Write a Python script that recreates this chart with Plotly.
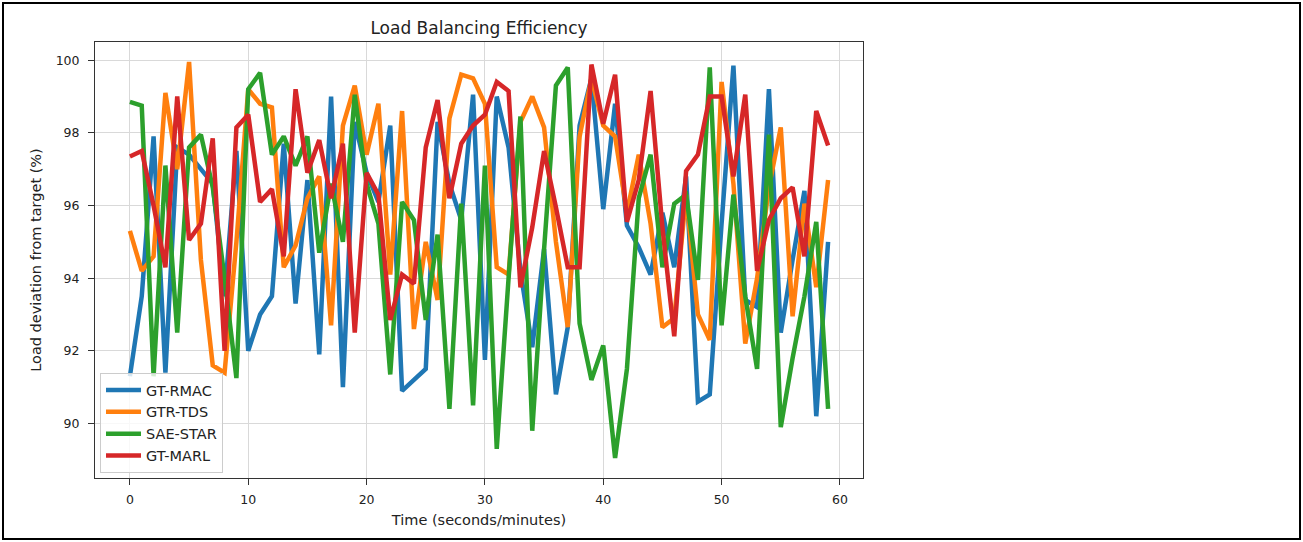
import plotly.graph_objects as go

time = list(range(60))
gt_rmac = [91.3, 93.5, 97.9, 91.4, 97.6, 97.4, 97.0, 96.6, 93.5, 97.5,
           92.0, 93.0, 93.5, 97.7, 93.3, 96.7, 91.9, 99.0, 91.0, 98.3,
           96.9, 96.1, 98.2, 90.9, 91.2, 91.5, 98.3, 96.6, 95.6, 99.05,
           91.75, 99.0, 97.6, 94.2, 92.1, 94.8, 90.8, 92.65, 98.2, 99.5,
           95.9, 98.8, 95.45, 94.85, 94.1, 95.8, 94.3, 96.8, 90.6, 90.8,
           95.5, 99.85, 93.4, 93.2, 99.2, 92.5, 94.5, 96.4, 90.2, 95.0]
gtr_tds = [95.3, 94.2, 94.6, 99.1, 97.0, 99.95, 94.5, 91.6, 91.4, 95.0,
           99.2, 98.8, 98.7, 94.3, 94.9, 96.2, 96.8, 92.7, 98.2, 99.3,
           97.4, 98.8, 94.1, 98.6, 92.6, 95.0, 93.4, 98.4, 99.6, 99.5,
           98.8, 94.3, 94.1, 98.3, 99.0, 98.15, 95.0, 92.65, 97.9, 99.5,
           98.2, 97.9, 95.8, 97.4, 95.5, 92.65, 92.9, 96.3, 93.0, 92.3,
           99.4, 96.6, 92.2, 94.0, 96.5, 98.15, 92.95, 96.05, 93.75, 96.7]
sae_star = [98.85, 98.75, 91.3, 97.1, 92.5, 97.6, 97.95, 96.5, 94.0, 91.25,
            99.2, 99.65, 97.4, 97.9, 97.1, 97.9, 94.7, 96.6, 95.0, 99.05,
            96.6, 95.5, 91.35, 96.1, 95.6, 92.85, 95.2, 90.4, 96.05, 90.5,
            97.1, 89.3, 94.0, 98.45, 89.8, 94.8, 99.3, 99.8, 92.75, 91.2,
            92.15, 89.05, 91.5, 96.2, 97.4, 94.3, 96.05, 96.3, 93.95, 99.8,
            92.7, 96.3, 93.5, 91.5, 97.95, 89.9, 91.8, 93.5, 95.55, 90.4]
gt_marl = [97.35, 97.5, 96.0, 94.3, 99.0, 95.05, 95.5, 97.85, 92.0, 98.15,
           98.5, 96.1, 96.45, 94.6, 99.2, 96.9, 97.8, 96.2, 97.7, 92.5,
           96.9, 96.3, 92.85, 94.1, 93.85, 97.6, 98.9, 96.2, 97.7, 98.2,
           98.5, 99.4, 99.15, 93.75, 95.4, 97.5, 95.95, 94.3, 94.3, 99.88,
           98.25, 99.6, 95.55, 96.7, 99.15, 95.4, 92.4, 96.95, 97.4, 99.0,
           99.0, 96.8, 99.05, 94.2, 95.6, 96.2, 96.5, 94.6, 98.6, 97.65]

series_names = ["GT-RMAC", "GTR-TDS", "SAE-STAR", "GT-MARL"]
series_values = [gt_rmac, gtr_tds, sae_star, gt_marl]
colors = ["#1f77b4", "#ff7f0e", "#2ca02c", "#d62728"]

x_ticks = [0, 10, 20, 30, 40, 50, 60]
y_ticks = [90, 92, 94, 96, 98, 100]

fig = go.Figure()
for name, vals, col in zip(series_names, series_values, colors):
    fig.add_trace(go.Scatter(x=time, y=vals, mode="lines", name=name,
                             line=dict(color=col, width=4.5)))

FONT = "DejaVu Sans"
L, R, T, B = 95, 440, 42, 64
W, H = 1303, 542
pw, ph = W - L - R, H - T - B

def px(xp):
    return (xp - L) / pw

def py(yp):
    return (H - B - yp) / ph

axis_common = dict(showline=True, linecolor="#333", linewidth=1, mirror=True,
                   ticks="outside", ticklen=6, tickcolor="#333",
                   showgrid=True, gridcolor="#d9d9d9", gridwidth=1,
                   zeroline=False, tickfont=dict(family=FONT, size=12.5, color="#222"))

fig.update_layout(
    width=W, height=H,
    margin=dict(l=L, r=R, t=T, b=B),
    paper_bgcolor="white", plot_bgcolor="white",
    font=dict(family=FONT, size=12, color="#222"),
    title=dict(text="Load Balancing Efficiency", x=px(479), xref="paper",
               xanchor="center", y=1 - 28 / H, yanchor="middle",
               font=dict(family=FONT, size=17, color="#222")),
    xaxis=dict(range=[-2.95, 61.95], tickvals=x_ticks, ticklabelstandoff=4,
               title=dict(text="Time (seconds/minutes)", standoff=8,
                          font=dict(family=FONT, size=14.5)),
               **axis_common),
    yaxis=dict(range=[88.5, 100.5], tickvals=y_ticks, ticklabelstandoff=6,
               title=dict(text="Load deviation from target (%)", standoff=10,
                          font=dict(family=FONT, size=14.5)),
               **axis_common),
    legend=dict(x=px(100), y=py(473), xanchor="left", yanchor="bottom",
                bgcolor="rgba(255,255,255,0.8)", bordercolor="#cccccc",
                borderwidth=1, font=dict(family=FONT, size=14.5, color="#222"),
                itemwidth=35, tracegroupgap=0),
    showlegend=True,
)

fig.add_shape(type="rect", xref="paper", yref="paper",
              x0=px(3), x1=px(1300), y0=py(539), y1=py(3),
              line=dict(color="black", width=2), fillcolor="rgba(0,0,0,0)",
              layer="above")

fig.write_html("out.html")
